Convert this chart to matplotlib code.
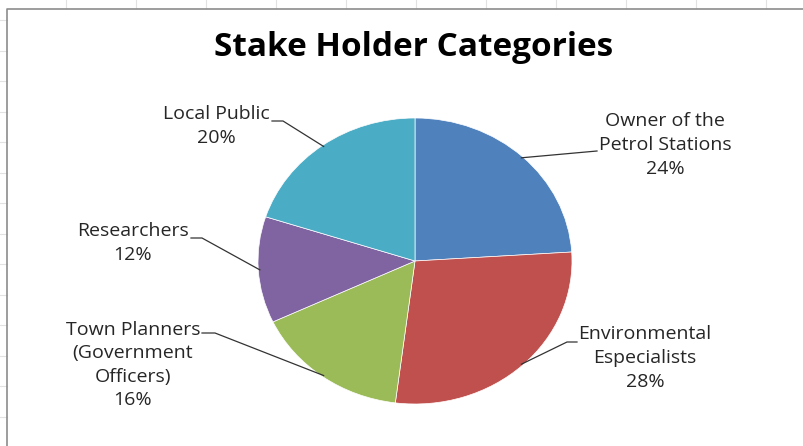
import numpy as np
import matplotlib.pyplot as plt

# stakeholder shares (percent), clockwise from 12 o'clock
categories = ["Owner of the\nPetrol Stations", "Environmental\nEspecialists",
              "Town Planners\n(Government\nOfficers)", "Researchers", "Local Public"]
shares = [24, 28, 16, 12, 20]
colors = ["#4f81bd", "#c0504d", "#9bbb59", "#8064a2", "#4bacc6"]

# label centres and leader anchor/stub points, in pixels from top-left
label_xy = [(665, 145), (645, 358), (133, 365), (133, 243), (216, 126)]
stub_xy = [[(597, 151)], [(577, 342), (567, 342)], [(202, 333), (215, 333)],
           [(191, 238), (202, 238)], [(272, 121), (283, 121)]]

W, H = 804, 446
cx, cy, rx, ry = 415, 261, 157, 143

fig = plt.figure(figsize=(W / 100, H / 100), dpi=100)
fig.patch.set_facecolor("white")

# spreadsheet background + chart frame
bg = fig.add_axes([0, 0, 1, 1])
bg.set_xlim(0, W)
bg.set_ylim(H, 0)
bg.axis("off")
for x in np.arange(66, W, 70):
    bg.plot([x, x], [0, 8], color="#e2e2e2", lw=0.8)
for y in np.arange(20, H, 30.5):
    bg.plot([0, 7], [y, y], color="#e2e2e2", lw=0.8)
bg.plot([7.5, 7.5, W + 5], [H + 5, 8.5, 8.5], color="#8c8c8c", lw=1.2)

bg.text(414, 48, "Stake Holder Categories", ha="center", va="center",
        fontsize=24, fontweight="bold", family="Open Sans", color="black")

# pie axes stretched to the ellipse
ax = fig.add_axes([(cx - 1.25 * rx) / W, (H - cy - 1.25 * ry) / H,
                   2.5 * rx / W, 2.5 * ry / H])
wedges, _ = ax.pie(shares, colors=colors, startangle=90, counterclock=False,
                   wedgeprops=dict(edgecolor="white", linewidth=0.5))
ax.set_aspect("auto")
ax.set_xlim(-1.25, 1.25)
ax.set_ylim(-1.25, 1.25)
ax.axis("off")


def to_data(p):
    return (p[0] - cx) / rx, (cy - p[1]) / ry


for w, name, val, lxy, stubs in zip(wedges, categories, shares, label_xy, stub_xy):
    mid = np.deg2rad((w.theta1 + w.theta2) / 2)
    end = (0.99 * np.cos(mid), 0.99 * np.sin(mid))
    pts = [to_data(p) for p in stubs] + [end]
    xs, ys = zip(*pts)
    ax.plot(xs, ys, color="#333333", lw=0.9, clip_on=False)
    tx, ty = to_data(lxy)
    ax.text(tx, ty, f"{name}\n{val}%", ha="center", va="center",
            fontsize=14, family="Open Sans", color="#262626",
            linespacing=1.4, clip_on=False)

fig.savefig("out.png", dpi=100)
